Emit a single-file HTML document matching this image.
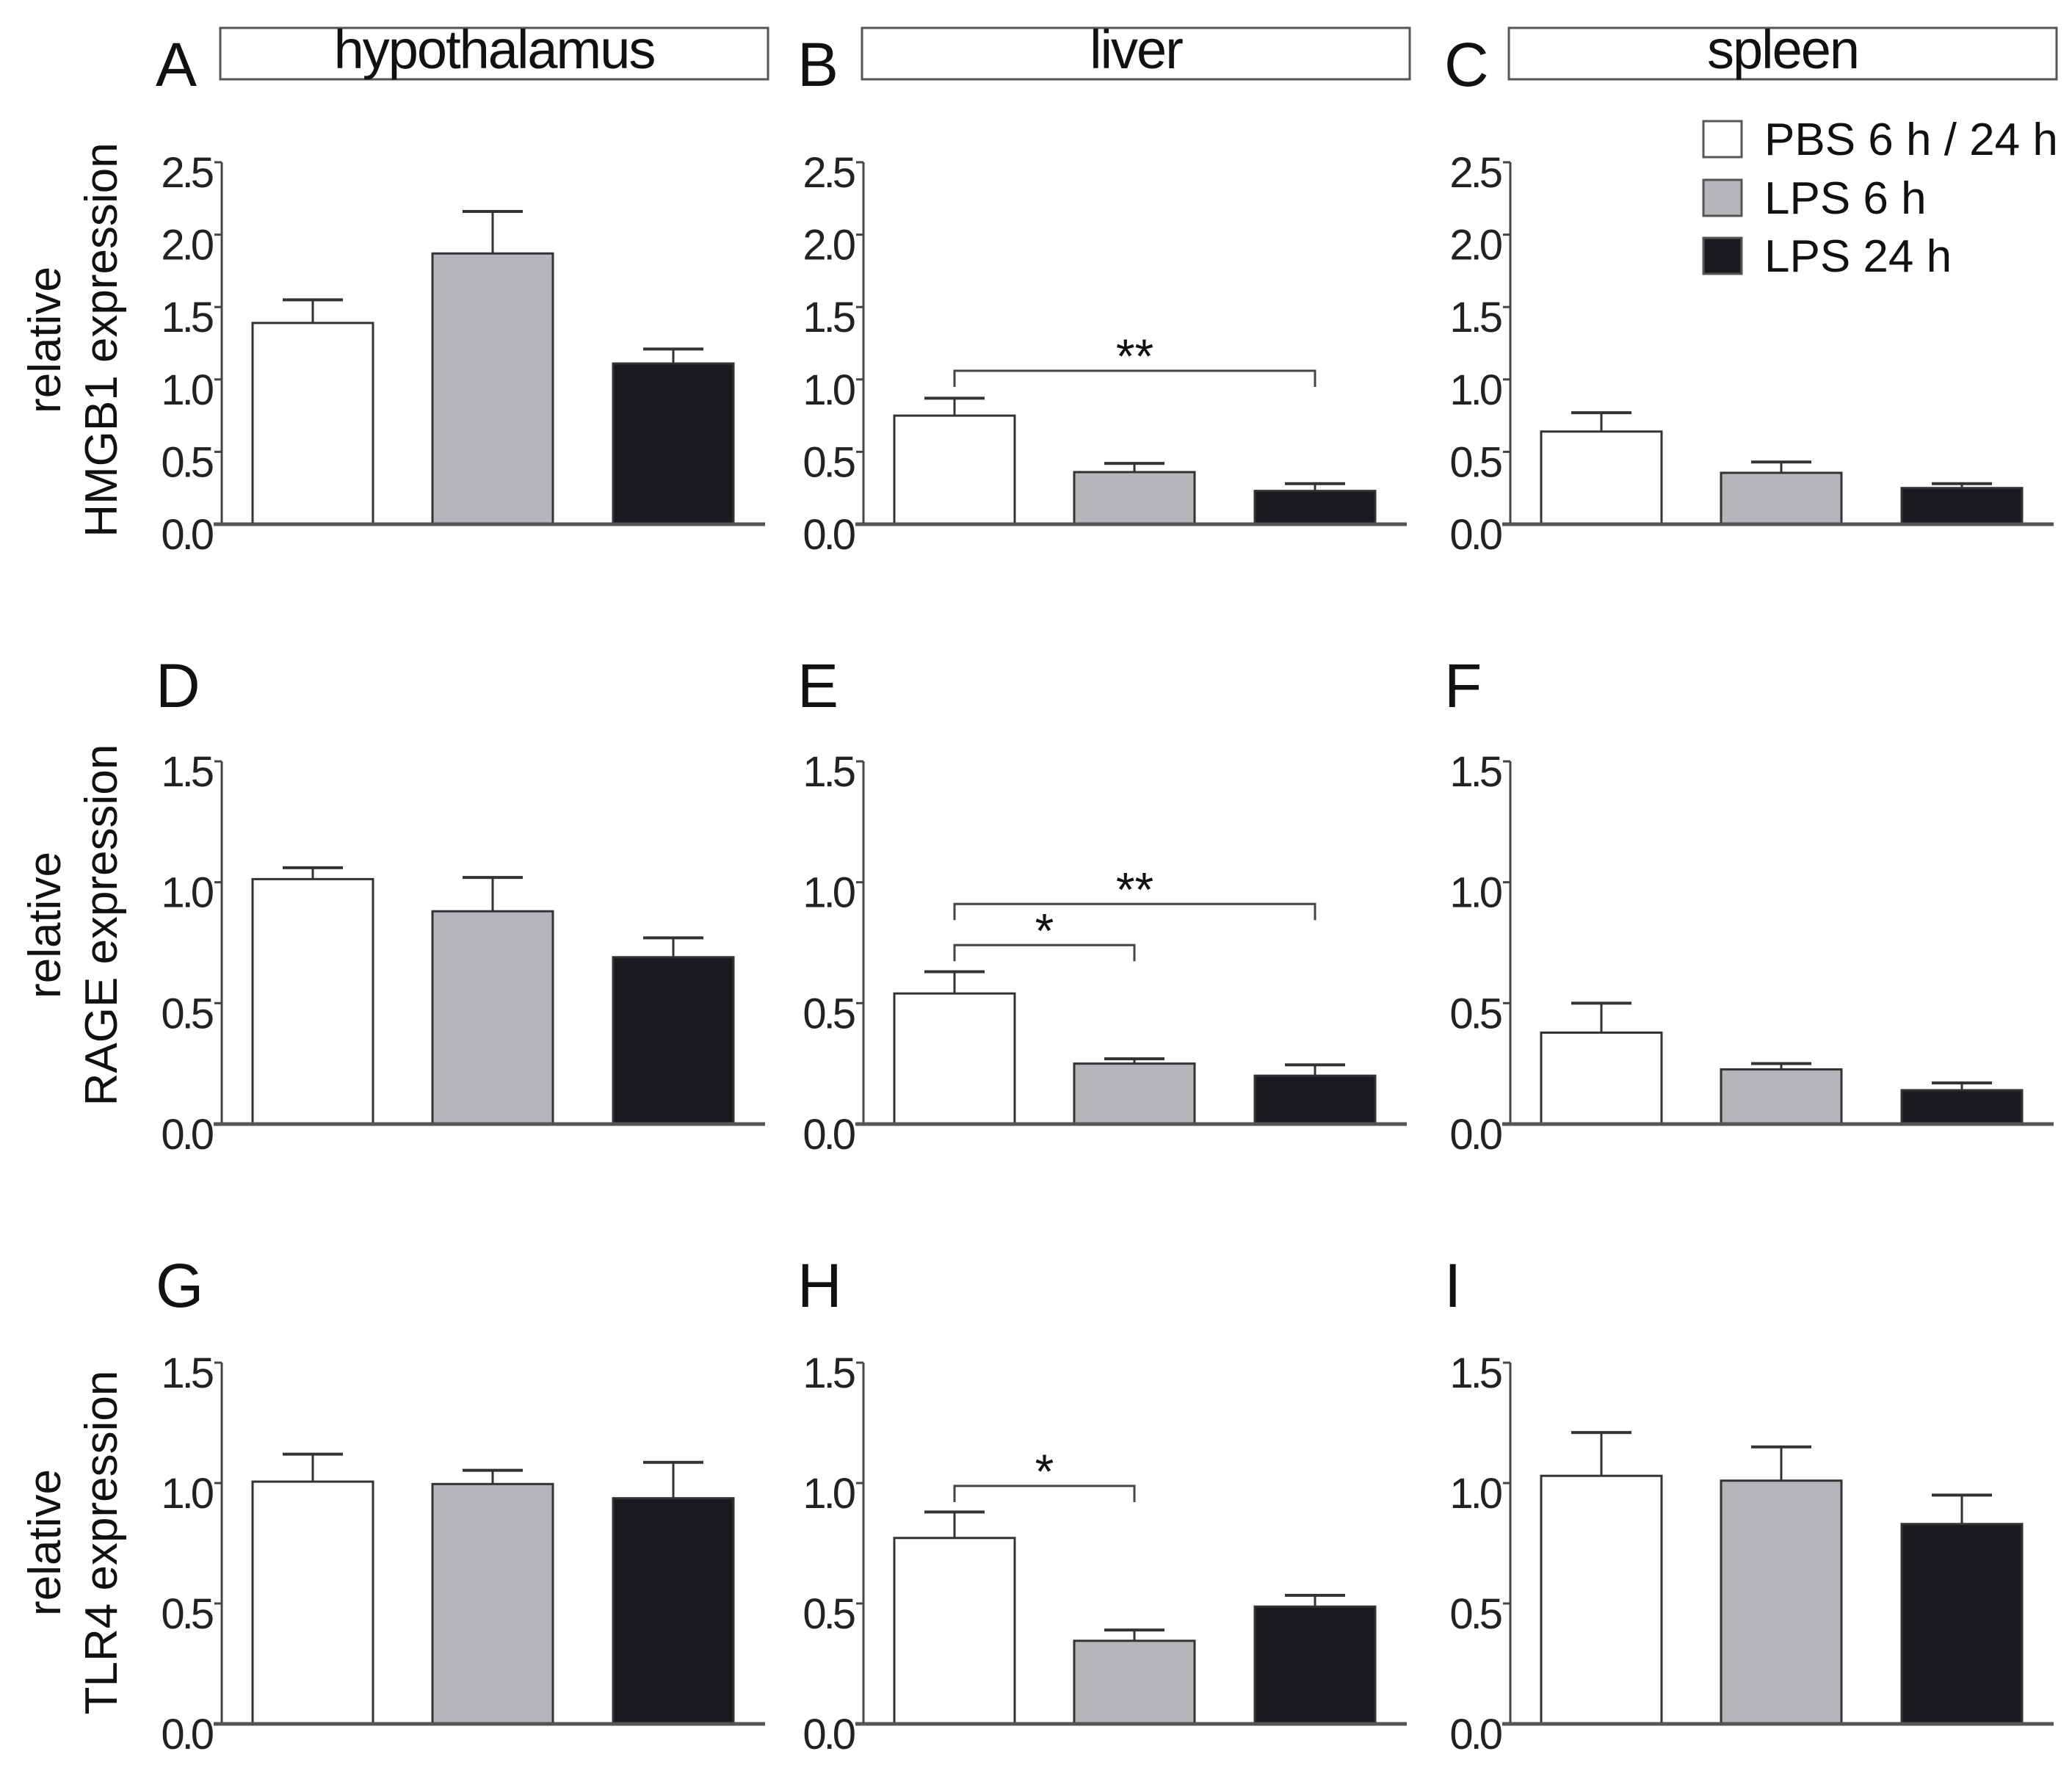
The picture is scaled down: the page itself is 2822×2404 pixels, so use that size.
<!DOCTYPE html>
<html><head><meta charset="utf-8"><style>
html,body{margin:0;padding:0;background:#fff;}
svg{display:block;font-family:"Liberation Sans",Arial,sans-serif;}
</style></head><body>
<svg id="fig" width="2822" height="2404" viewBox="0 0 2822 2404" xmlns="http://www.w3.org/2000/svg"></svg>
<script>
// ---- data ----
const groups = ["PBS 6 h / 24 h", "LPS 6 h", "LPS 24 h"];
const tissues = ["hypothalamus", "liver", "spleen"];
const genes = ["HMGB1", "RAGE", "TLR4"];
const panelLetters = ["A","B","C","D","E","F","G","H","I"];
const yMaxByRow = [2.5, 1.5, 1.5];
const ticksRow1 = [0.0, 0.5, 1.0, 1.5, 2.0, 2.5];
const ticksRow23 = [0.0, 0.5, 1.0, 1.5];
// means per panel (A..I), order: PBS, LPS6, LPS24
const meansA = [1.39, 1.87, 1.11];
const meansB = [0.75, 0.36, 0.23];
const meansC = [0.64, 0.355, 0.25];
const meansD = [1.013, 0.88, 0.69];
const meansE = [0.54, 0.25, 0.20];
const meansF = [0.378, 0.226, 0.14];
const meansG = [1.006, 0.996, 0.937];
const meansH = [0.772, 0.345, 0.487];
const meansI = [1.03, 1.01, 0.83];
// upper error bar values
const errA = [1.55, 2.16, 1.21];
const errB = [0.87, 0.42, 0.28];
const errC = [0.77, 0.43, 0.28];
const errD = [1.06, 1.02, 0.77];
const errE = [0.63, 0.27, 0.245];
const errF = [0.50, 0.25, 0.17];
const errG = [1.12, 1.053, 1.086];
const errH = [0.88, 0.39, 0.534];
const errI = [1.21, 1.15, 0.95];
// significance brackets
const sigPanels = [1, 4, 4, 7];
const sigFrom = [0, 0, 0, 0];
const sigTo = [2, 1, 2, 1];
const sigLevel = [1.06, 0.74, 0.91, 0.988];
const sigLabel = ["**", "*", "**", "*"];

const allMeans = [meansA,meansB,meansC,meansD,meansE,meansF,meansG,meansH,meansI];
const allErr = [errA,errB,errC,errD,errE,errF,errG,errH,errI];

// ---- layout ----
const NS = "http://www.w3.org/2000/svg";
const svg = document.getElementById("fig");
const axisX = [302, 1176, 2057];
const rowTop = [221, 1037, 1856];
const rowBot = [714, 1531, 2348];
const letterBase = [117, 963, 1780];
const labelCenterY = [463, 1260, 2101];
const barOff = [42, 287, 533];
const barW = 164;
const fills = ["#ffffff", "#b5b6b9", "#1b191d"];
const strokeC = "#333";

function el(tag, attrs, parent){
  const e = document.createElementNS(NS, tag);
  for (const k in attrs) e.setAttribute(k, attrs[k]);
  (parent||svg).appendChild(e);
  return e;
}
function yScale(row, v){ return rowBot[row] - (v / yMaxByRow[row]) * (rowBot[row] - rowTop[row]); }

tissues.forEach((t, c) => {
  const g = el("g", {});
  
  
  el("rect", {x: axisX[c]-2, y: 38, width: 746, height: 70, fill: "#fff", stroke: "#555", "stroke-width": 3}, g);
  const tx = el("text", {x: axisX[c]+371, y: 93, "font-size": 74, "text-anchor": "middle", fill: "#111", "letter-spacing": -2}, g);
  tx.textContent = t;
});

genes.forEach((gn, r) => {
  const g = el("g", {});
  
  
  const t1 = el("text", {x: 0, y: 0, "font-size": 62, "text-anchor": "middle", fill: "#111", transform: `translate(82,${labelCenterY[r]}) rotate(-90)`}, g);
  t1.textContent = "relative";
  const t2 = el("text", {x: 0, y: 0, "font-size": 62, "text-anchor": "middle", fill: "#111", transform: `translate(159,${labelCenterY[r]}) rotate(-90)`}, g);
  t2.textContent = gn + " expression";
});

for (let r = 0; r < 3; r++) {
  for (let c = 0; c < 3; c++) {
    const p = r*3 + c;
    const ax = axisX[c];
    const g = el("g", {});
    
    
    const L = el("text", {x: ax-90, y: letterBase[r], "font-size": 84, fill: "#111"}, g);
    
    
    L.textContent = panelLetters[p];
    const ya = el("line", {x1: ax, y1: rowTop[r], x2: ax, y2: rowBot[r], stroke: "#444", "stroke-width": 3}, g);
    
    
    const ticks = r === 0 ? ticksRow1 : ticksRow23;
    ticks.forEach(tv => {
      const y = yScale(r, tv);
      el("line", {x1: ax-10, y1: y, x2: ax, y2: y, stroke: "#444", "stroke-width": 3}, g);
      const tl = el("text", {x: ax-14, y: y+34, "font-size": 58, "text-anchor": "end", fill: "#222", "letter-spacing": -4}, g);
      
      
      tl.textContent = tv.toFixed(1);
    });
    allMeans[p].forEach((m, i) => {
      const x = ax + barOff[i];
      const yT = yScale(r, m);
      const yE = yScale(r, allErr[p][i]);
      const cx = x + barW/2;
      const eb = el("line", {x1: cx, y1: yT, x2: cx, y2: yE, stroke: strokeC, "stroke-width": 3}, g);
      
      
      el("line", {x1: cx-41, y1: yE, x2: cx+41, y2: yE, stroke: strokeC, "stroke-width": 4}, g);
      const b = el("rect", {x: x, y: yT, width: barW, height: rowBot[r]-yT, fill: fills[i], stroke: strokeC, "stroke-width": 3}, g);
      
      
    });
    const bl = el("line", {x1: ax-11, y1: rowBot[r], x2: ax+740, y2: rowBot[r], stroke: "#555", "stroke-width": 5}, g);
    
    
  }
}

sigPanels.forEach((p, k) => {
  const r = Math.floor(p/3), c = p%3;
  const ax = axisX[c];
  const x1 = ax + barOff[sigFrom[k]] + barW/2;
  const x2 = ax + barOff[sigTo[k]] + barW/2;
  const y = yScale(r, sigLevel[k]);
  const g = el("g", {});
  
  
  el("polyline", {points: `${x1},${y+22} ${x1},${y} ${x2},${y} ${x2},${y+22}`, fill: "none", stroke: "#444", "stroke-width": 3}, g);
  const t = el("text", {x: (x1+x2)/2, y: y + 3, "font-size": 66, "text-anchor": "middle", fill: "#111"}, g);
  t.textContent = sigLabel[k];
});

const legY = [165, 245, 324];
groups.forEach((gr, i) => {
  const g = el("g", {});
  
  
  el("rect", {x: 2320, y: legY[i], width: 52, height: 49, fill: fills[i], stroke: "#555", "stroke-width": 3}, g);
  const t = el("text", {x: 2403, y: legY[i]+46, "font-size": 62, fill: "#111"}, g);
  t.textContent = gr;
});
</script>
</body></html>
